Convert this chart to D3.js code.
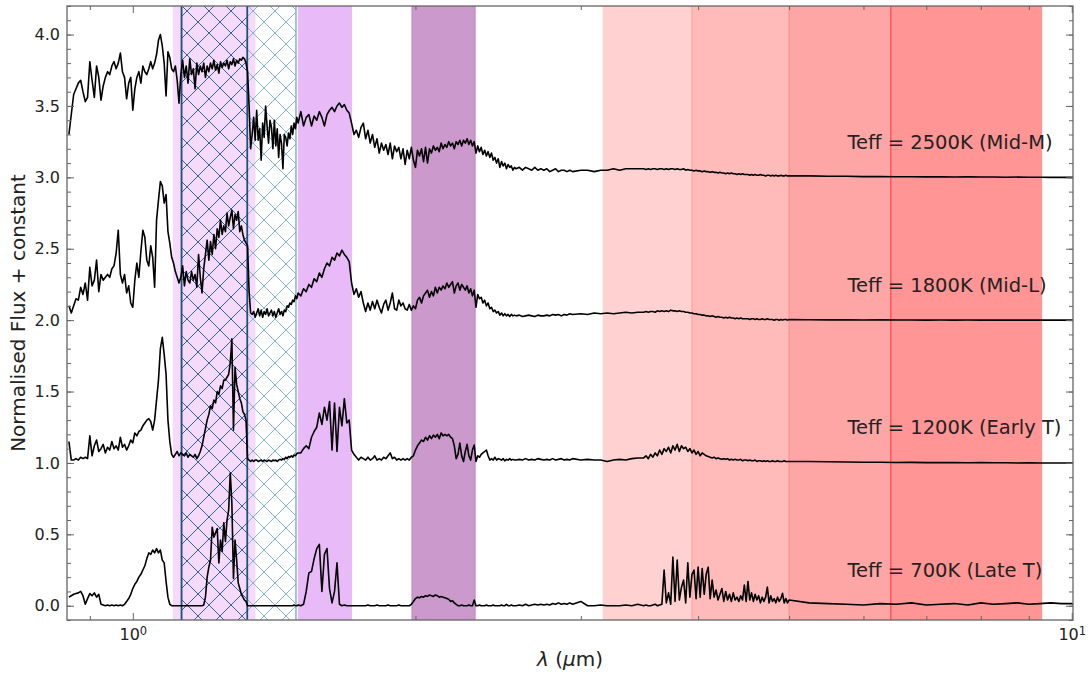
<!DOCTYPE html>
<html>
<head>
<meta charset="utf-8">
<script src="https://cdnjs.cloudflare.com/ajax/libs/d3/7.8.5/d3.min.js"></script>
<style>
  body { margin: 0; background: #fff; }
  svg { display: block; font-family: "DejaVu Sans", sans-serif; }
</style>
</head>
<body>
<div id="chart"></div>
<script>
// wavelength grid (micron) shared by the four spectra
var wavelength = [
  0.855,0.860,0.865,0.870,0.875,0.880,0.885,0.890,0.895,0.900,
  0.905,0.910,0.915,0.920,0.925,0.930,0.935,0.940,0.945,0.950,
  0.955,0.960,0.965,0.970,0.975,0.980,0.985,0.990,0.995,1.000,
  1.005,1.010,1.015,1.020,1.025,1.030,1.035,1.040,1.045,1.050,
  1.055,1.060,1.065,1.070,1.075,1.080,1.085,1.090,1.095,1.100,
  1.105,1.110,1.115,1.120,1.125,1.130,1.135,1.140,1.145,1.150,
  1.155,1.160,1.165,1.170,1.175,1.180,1.185,1.190,1.195,1.200,
  1.205,1.210,1.215,1.220,1.225,1.230,1.235,1.240,1.245,1.250,
  1.255,1.260,1.265,1.270,1.275,1.280,1.285,1.290,1.295,1.300,
  1.305,1.310,1.315,1.320,1.325,1.330,1.335,1.340,1.345,1.350,
  1.355,1.360,1.365,1.370,1.375,1.380,1.385,1.390,1.395,1.400,
  1.405,1.410,1.415,1.420,1.425,1.430,1.435,1.440,1.445,1.450,
  1.455,1.460,1.465,1.470,1.475,1.480,1.485,1.490,1.495,1.500,
  1.51,1.52,1.53,1.54,1.55,1.56,1.57,1.58,1.59,1.60,
  1.61,1.62,1.63,1.64,1.65,1.66,1.67,1.68,1.69,1.70,
  1.71,1.72,1.73,1.74,1.75,
  1.76,1.77,1.78,1.79,1.80,1.81,1.82,1.83,1.84,1.85,
  1.86,1.87,1.88,1.89,1.90,1.91,1.92,1.93,1.94,1.95,
  1.96,1.97,1.98,1.99,2.00,2.01,2.02,2.03,2.04,2.05,
  2.06,2.07,2.08,2.09,2.10,2.11,2.12,2.13,2.14,2.15,
  2.16,2.17,2.18,2.19,2.20,2.21,2.22,2.23,2.24,2.25,
  2.26,2.27,2.28,2.29,2.30,2.31,2.32,2.33,2.34,2.35,
  2.36,2.37,2.38,2.39,2.40,2.41,2.42,2.43,2.44,2.45,
  2.46,2.47,2.48,2.49,2.50,2.51,2.52,2.53,2.54,2.55,
  2.56,2.58,2.60,2.62,2.64,2.66,2.68,2.70,2.72,2.74,
  2.76,2.78,2.80,2.82,2.84,2.86,2.88,2.90,2.92,2.94,
  3.00,3.05,3.10,3.15,3.20,3.25,3.30,3.35,3.40,3.45,
  3.50,3.52,3.54,3.56,3.58,3.60,3.62,3.64,3.66,3.68,
  3.70,3.72,3.74,3.76,3.78,3.80,3.82,3.84,3.86,3.88,
  3.90,3.92,3.94,3.96,3.98,4.00,4.02,4.04,4.06,4.08,
  4.10,4.12,4.14,4.16,4.18,4.20,4.22,4.24,4.26,4.28,
  4.30,4.32,4.34,4.36,4.38,4.40,4.42,4.44,4.46,4.48,
  4.50,4.52,4.54,4.56,4.58,4.60,4.62,4.64,4.66,4.68,
  4.70,4.72,4.74,4.76,4.78,4.80,4.82,4.84,4.86,4.88,
  4.90,4.92,4.94,4.96,4.98,
  5.00,5.25,5.50,5.75,6.00,6.25,6.50,6.75,7.00,7.25,
  7.50,7.75,8.00,8.25,8.50,8.75,9.00,9.25,9.50,9.75,
  10.00,10.03
];

// normalised flux (before the constant is added)
var fluxMidM = [
  0.30,0.44,0.58,0.62,0.66,0.68,0.60,0.53,0.56,0.81,
  0.68,0.56,0.78,0.70,0.54,0.64,0.70,0.74,0.72,0.78,
  0.81,0.76,0.80,0.87,0.74,0.70,0.55,0.66,0.70,0.47,
  0.62,0.70,0.74,0.66,0.78,0.74,0.72,0.76,0.81,0.76,
  0.80,0.86,0.96,1.00,0.92,0.80,0.57,0.88,0.84,0.76,
  0.74,0.78,0.68,0.52,0.72,0.82,0.70,0.78,0.66,0.83,
  0.72,0.76,0.62,0.80,0.72,0.78,0.74,0.80,0.70,0.78,
  0.74,0.80,0.76,0.82,0.75,0.79,0.73,0.81,0.77,0.80,
  0.78,0.82,0.76,0.81,0.79,0.83,0.78,0.82,0.80,0.83,
  0.82,0.84,0.83,0.80,0.74,0.50,0.20,0.30,0.42,0.26,
  0.47,0.26,0.34,0.12,0.38,0.28,0.50,0.36,0.24,0.40,
  0.35,0.20,0.40,0.22,0.34,0.14,0.30,0.24,0.06,0.30,
  0.28,0.22,0.31,0.27,0.36,0.30,0.38,0.34,0.42,0.38,
  0.46,0.36,0.42,0.44,0.36,0.43,0.40,0.46,0.42,0.36,
  0.44,0.47,0.49,0.46,0.50,0.52,0.49,0.51,0.47,0.45,
  0.38,0.30,0.33,0.28,0.35,
  0.38,0.27,0.33,0.24,0.30,0.21,0.27,0.17,0.24,0.19,
  0.23,0.16,0.24,0.13,0.22,0.18,0.21,0.13,0.20,0.09,
  0.19,0.13,0.21,0.12,0.07,0.19,0.15,0.20,0.11,0.21,
  0.10,0.20,0.17,0.22,0.19,0.21,0.18,0.24,0.20,0.23,
  0.21,0.25,0.22,0.24,0.20,0.25,0.23,0.26,0.22,0.26,
  0.24,0.27,0.23,0.26,0.22,0.25,0.17,0.22,0.18,0.21,
  0.16,0.19,0.15,0.18,0.14,0.17,0.12,0.14,0.10,0.13,
  0.07,0.11,0.08,0.10,0.06,0.09,0.07,0.08,0.05,0.07,
  0.06,0.07,0.05,0.07,0.06,0.05,0.07,0.05,0.06,0.05,
  0.06,0.04,0.05,0.06,0.04,0.05,0.05,0.04,0.05,0.04,
  0.05,0.05,0.04,0.05,0.05,0.06,0.05,0.06,0.06,0.06,
  0.06,0.055,0.06,0.055,0.06,0.06,0.055,0.06,0.06,0.055,
  0.06,0.055,0.06,0.06,0.055,0.06,0.055,0.055,0.06,0.05,
  0.055,0.05,0.05,0.045,0.05,0.045,0.045,0.04,0.045,0.04,
  0.04,0.035,0.04,0.035,0.035,0.03,0.035,0.03,0.03,0.025,
  0.03,0.025,0.03,0.025,0.025,0.02,0.025,0.02,0.025,0.02,
  0.02,0.02,0.015,0.02,0.015,0.02,0.015,0.015,0.02,0.015,
  0.015,0.01,0.015,0.015,0.01,0.015,0.01,0.015,0.01,0.01,
  0.015,0.01,0.01,0.015,0.01,
  0.01,0.01,0.008,0.008,0.005,0.006,0.004,0.004,0.003,0.003,
  0.002,0.003,0.002,0.002,0.001,0.002,0.001,0.001,0.0,0.001,
  0.0,0.0
];

var fluxMidL = [
  0.10,0.05,0.10,0.15,0.14,0.23,0.18,0.26,0.14,0.37,
  0.24,0.28,0.42,0.20,0.32,0.28,0.30,0.32,0.30,0.36,
  0.38,0.47,0.63,0.32,0.26,0.32,0.19,0.24,0.12,0.09,
  0.28,0.40,0.30,0.48,0.63,0.58,0.42,0.38,0.52,0.44,
  0.23,0.70,0.84,0.97,0.94,0.82,0.88,0.62,0.54,0.44,
  0.40,0.34,0.30,0.26,0.30,0.38,0.24,0.34,0.28,0.26,
  0.34,0.28,0.32,0.23,0.46,0.30,0.19,0.36,0.46,0.56,
  0.42,0.55,0.46,0.60,0.50,0.64,0.58,0.70,0.60,0.66,
  0.62,0.75,0.66,0.72,0.77,0.64,0.74,0.70,0.76,0.62,
  0.66,0.60,0.56,0.54,0.52,0.20,0.05,0.04,0.06,0.02,
  0.05,0.08,0.03,0.07,0.02,0.06,0.04,0.08,0.03,0.05,
  0.07,0.03,0.06,0.02,0.05,0.08,0.04,0.06,0.03,0.07,
  0.06,0.10,0.09,0.12,0.11,0.14,0.13,0.17,0.15,0.19,
  0.17,0.22,0.20,0.25,0.23,0.29,0.27,0.33,0.30,0.36,
  0.40,0.38,0.44,0.42,0.47,0.45,0.49,0.46,0.44,0.41,
  0.26,0.18,0.22,0.16,0.20,
  0.12,0.06,0.12,0.07,0.13,0.08,0.14,0.09,0.05,0.11,
  0.14,0.07,0.12,0.19,0.08,0.07,0.14,0.10,0.12,0.08,
  0.07,0.11,0.07,0.10,0.08,0.14,0.16,0.12,0.17,0.19,
  0.21,0.16,0.20,0.17,0.23,0.19,0.23,0.21,0.24,0.22,
  0.26,0.23,0.25,0.27,0.19,0.24,0.26,0.21,0.25,0.23,
  0.21,0.24,0.19,0.22,0.17,0.21,0.09,0.18,0.15,0.16,
  0.12,0.14,0.10,0.12,0.08,0.09,0.06,0.07,0.05,0.06,
  0.035,0.05,0.03,0.045,0.03,0.04,0.025,0.04,0.03,0.035,
  0.03,0.035,0.025,0.03,0.035,0.03,0.025,0.035,0.03,0.03,
  0.035,0.03,0.04,0.035,0.04,0.03,0.04,0.035,0.045,0.04,
  0.045,0.04,0.05,0.045,0.05,0.045,0.05,0.055,0.05,0.055,
  0.055,0.06,0.055,0.06,0.06,0.055,0.065,0.06,0.065,0.06,
  0.065,0.06,0.07,0.065,0.065,0.06,0.065,0.06,0.06,0.055,
  0.055,0.05,0.05,0.045,0.045,0.04,0.04,0.035,0.035,0.03,
  0.03,0.025,0.03,0.025,0.02,0.025,0.02,0.02,0.015,0.02,
  0.015,0.02,0.015,0.015,0.01,0.015,0.01,0.015,0.01,0.01,
  0.01,0.01,0.005,0.01,0.01,0.005,0.01,0.005,0.005,0.01,
  0.005,0.005,0.01,0.005,0.005,0.005,0.0,0.005,0.005,0.0,
  0.005,0.0,0.005,0.005,0.0,
  0.005,0.003,0.002,0.003,0.001,0.002,0.001,0.001,0.0,0.001,
  0.0,0.001,0.0,0.0,0.001,0.0,0.0,0.001,0.0,0.0,
  0.0,0.0
];

var fluxEarlyT = [
  0.15,0.02,0.02,0.03,0.02,0.04,0.03,0.04,0.03,0.19,
  0.05,0.12,0.16,0.08,0.10,0.13,0.07,0.11,0.09,0.15,
  0.10,0.12,0.09,0.18,0.11,0.13,0.09,0.12,0.16,0.14,
  0.21,0.19,0.22,0.23,0.26,0.28,0.30,0.31,0.29,0.23,
  0.30,0.44,0.58,0.80,0.88,0.76,0.62,0.30,0.15,0.06,
  0.04,0.06,0.08,0.05,0.07,0.06,0.05,0.07,0.04,0.06,
  0.05,0.04,0.06,0.03,0.05,0.08,0.12,0.18,0.24,0.30,
  0.34,0.40,0.38,0.44,0.42,0.50,0.48,0.54,0.52,0.58,
  0.58,0.60,0.62,0.70,0.87,0.23,0.67,0.55,0.50,0.45,
  0.42,0.36,0.34,0.30,0.03,0.02,0.01,0.02,0.01,0.02,
  0.02,0.01,0.015,0.02,0.01,0.02,0.015,0.01,0.02,0.015,
  0.01,0.02,0.015,0.02,0.01,0.02,0.025,0.02,0.03,0.025,
  0.04,0.03,0.045,0.04,0.05,0.04,0.055,0.05,0.065,0.07,
  0.07,0.10,0.12,0.10,0.18,0.22,0.25,0.35,0.27,0.39,
  0.30,0.43,0.09,0.42,0.08,0.39,0.26,0.45,0.28,0.30,
  0.09,0.06,0.04,0.02,0.04,
  0.03,0.02,0.04,0.02,0.03,0.05,0.02,0.03,0.02,0.04,
  0.03,0.05,0.07,0.03,0.04,0.02,0.03,0.02,0.03,0.02,
  0.03,0.02,0.04,0.05,0.09,0.12,0.14,0.16,0.15,0.18,
  0.16,0.19,0.17,0.195,0.18,0.20,0.17,0.21,0.19,0.20,
  0.19,0.20,0.18,0.17,0.12,0.03,0.06,0.14,0.05,0.01,
  0.08,0.13,0.05,0.02,0.09,0.125,0.01,0.05,0.04,0.06,
  0.07,0.08,0.09,0.05,0.02,0.03,0.02,0.04,0.02,0.03,
  0.025,0.02,0.03,0.015,0.025,0.02,0.03,0.02,0.025,0.02,
  0.02,0.025,0.02,0.03,0.02,0.025,0.02,0.03,0.025,0.02,
  0.025,0.02,0.03,0.02,0.025,0.03,0.02,0.025,0.02,0.03,
  0.02,0.025,0.02,0.02,0.01,0.02,0.025,0.02,0.03,0.035,
  0.035,0.05,0.03,0.06,0.04,0.07,0.05,0.09,0.06,0.10,
  0.08,0.11,0.07,0.12,0.09,0.13,0.08,0.12,0.10,0.11,
  0.08,0.10,0.07,0.09,0.06,0.08,0.05,0.07,0.06,0.05,
  0.045,0.04,0.035,0.04,0.03,0.035,0.03,0.025,0.03,0.025,
  0.03,0.02,0.025,0.02,0.025,0.02,0.02,0.025,0.015,0.02,
  0.02,0.015,0.02,0.015,0.015,0.02,0.01,0.015,0.015,0.01,
  0.015,0.01,0.015,0.01,0.01,0.015,0.01,0.01,0.015,0.01,
  0.01,0.01,0.015,0.01,0.01,
  0.01,0.01,0.008,0.006,0.005,0.005,0.003,0.004,0.002,0.002,
  0.002,0.001,0.002,0.001,0.001,0.0,0.001,0.0,0.0,0.0,
  0.0,0.0
];

var fluxLateT = [
  0.06,0.07,0.08,0.085,0.09,0.10,0.07,0.01,0.05,0.085,
  0.07,0.09,0.06,0.08,0.01,0.005,0.0,0.005,0.0,0.005,
  0.0,0.005,0.0,0.005,0.0,0.01,0.03,0.05,0.08,0.12,
  0.15,0.17,0.20,0.22,0.25,0.28,0.33,0.37,0.36,0.39,
  0.37,0.40,0.37,0.39,0.32,0.30,0.17,0.06,0.01,0.0,
  0.0,0.0,0.0,0.0,0.0,0.0,0.0,0.0,0.0,0.0,
  0.0,0.0,0.0,0.0,0.0,0.0,0.0,0.005,0.06,0.20,
  0.27,0.32,0.55,0.48,0.51,0.54,0.30,0.46,0.38,0.58,
  0.45,0.60,0.67,0.93,0.72,0.19,0.46,0.32,0.16,0.12,
  0.08,0.06,0.04,0.03,0.0,0.0,0.0,0.0,0.0,0.0,
  0.0,0.0,0.0,0.0,0.0,0.0,0.0,0.0,0.0,0.0,
  0.0,0.0,0.0,0.0,0.0,0.0,0.0,0.0,0.0,0.0,
  0.0,0.0,0.0,0.0,0.0,0.0,0.005,0.0,0.0,0.005,
  0.0,0.01,0.10,0.23,0.24,0.33,0.40,0.43,0.10,0.36,
  0.40,0.12,0.02,0.10,0.30,0.01,0.0,0.005,0.0,0.0,
  0.0,0.0,0.0,0.0,0.0,
  0.0,0.0,0.005,0.0,0.0,0.0,0.005,0.0,0.0,0.0,
  0.0,0.005,0.0,0.0,0.0,0.0,0.005,0.0,0.0,0.0,
  0.0,0.0,0.01,0.03,0.05,0.06,0.055,0.065,0.06,0.07,
  0.065,0.075,0.07,0.065,0.075,0.07,0.06,0.065,0.06,0.055,
  0.05,0.045,0.03,0.035,0.02,0.01,0.0,0.0,0.005,0.0,
  0.0,0.0,0.005,0.0,0.0,0.04,0.0,0.0,0.005,0.0,
  0.0,0.0,0.005,0.0,0.0,0.0,0.005,0.0,0.0,0.0,
  0.0,0.005,0.0,0.0,0.01,0.0,0.0,0.005,0.0,0.0,
  0.0,0.005,0.0,0.01,0.0,0.005,0.01,0.005,0.01,0.005,
  0.01,0.005,0.015,0.01,0.02,0.01,0.015,0.01,0.02,0.01,
  0.03,0.0,0.0,0.005,0.0,0.0,0.0,0.005,0.0,0.01,
  0.0,0.005,0.0,0.0,0.005,0.01,0.0,0.005,0.01,0.25,
  0.02,0.09,0.01,0.34,0.03,0.32,0.04,0.13,0.18,0.02,
  0.30,0.06,0.22,0.25,0.05,0.27,0.06,0.26,0.08,0.22,
  0.27,0.05,0.18,0.06,0.11,0.04,0.08,0.12,0.03,0.10,
  0.04,0.08,0.03,0.09,0.04,0.06,0.03,0.07,0.04,0.145,
  0.03,0.17,0.04,0.09,0.03,0.08,0.04,0.07,0.02,0.06,
  0.03,0.06,0.13,0.02,0.07,0.03,0.05,0.02,0.06,0.03,
  0.05,0.087,0.02,0.05,0.02,
  0.04,0.02,0.015,0.01,0.005,0.015,0.01,0.02,0.005,0.01,
  0.015,0.005,0.02,0.01,0.015,0.02,0.01,0.015,0.02,0.015,
  0.015,0.01
];

var spectra = [fluxMidM, fluxMidL, fluxEarlyT, fluxLateT];
var offsets = [3, 2, 1, 0];
var specLabels = ["Teff = 2500K (Mid-M)", "Teff = 1800K (Mid-L)", "Teff = 1200K (Early T)", "Teff = 700K (Late T)"];

// shaded wavelength ranges (micron)
var violetBands = [[1.103, 1.351], [1.499, 1.712]];
var purpleBand = [1.983, 2.315];
var hatchBands = [[1.127, 1.324], [1.324, 1.492]];
var redBands = [[3.165, 3.94], [3.94, 5.0], [5.0, 6.416], [6.416, 9.30]];

// axes
var xLimits = [0.851, 10.03],
    yLimits = [-0.1, 4.2],
    xMajorTicks = [1, 10],
    xMinorTicks = [0.9, 2, 3, 4, 5, 6, 7, 8, 9],
    yMajorTicks = [0, 0.5, 1.0, 1.5, 2.0, 2.5, 3.0, 3.5, 4.0];

var width = 1091,
    height = 675,
    plot = {left: 67, right: 1073, top: 6, bottom: 620};

var svg = d3.select('#chart')
        .append('svg')
        .attr('width', width)
        .attr('height', height)
        .style('background', '#fff');

var x = d3.scaleLog().domain(xLimits).range([plot.left, plot.right]),
    y = d3.scaleLinear().domain(yLimits).range([plot.bottom, plot.top]);

var defs = svg.append('defs');
defs.append('clipPath').attr('id', 'plot-clip')
    .append('rect')
    .attr('x', plot.left).attr('y', plot.top)
    .attr('width', plot.right - plot.left)
    .attr('height', plot.bottom - plot.top);

var hatchSize = 22;
function addHatch(id, color){
    var s = hatchSize;
    var p = defs.append('pattern')
        .attr('id', id)
        .attr('patternUnits', 'userSpaceOnUse')
        .attr('width', s).attr('height', s);
    p.append('path')
        .attr('d', 'M-4,-4L' + (s + 4) + ',' + (s + 4) + 'M' + (s + 4) + ',-4L-4,' + (s + 4) +
                   'M-4,' + (s - 4) + 'L4,' + (s + 4) + 'M' + (s - 4) + ',-4L' + (s + 4) + ',4' +
                   'M-4,4L4,-4M' + (s - 4) + ',' + (s + 4) + 'L' + (s + 4) + ',' + (s - 4))
        .attr('stroke', color)
        .attr('stroke-width', 1)
        .attr('fill', 'none');
}
addHatch('hatch-dark', '#33659a');
addHatch('hatch-light', '#88b4ca');

var bg = svg.append('g').attr('clip-path', 'url(#plot-clip)');

function band(g, r, fill){
    return g.append('rect')
        .attr('x', x(r[0]))
        .attr('y', plot.top)
        .attr('width', x(r[1]) - x(r[0]))
        .attr('height', plot.bottom - plot.top)
        .attr('fill', fill);
}
function vline(g, w, color, sw){
    g.append('line')
        .attr('x1', x(w)).attr('x2', x(w))
        .attr('y1', plot.top).attr('y2', plot.bottom)
        .attr('stroke', color).attr('stroke-width', sw);
}

band(bg, violetBands[0], '#f5dafc');
band(bg, violetBands[1], '#e8baf8');
band(bg, purpleBand, '#cc99cc');
vline(bg, purpleBand[0], '#bf82c2', 1);
vline(bg, purpleBand[1], '#bf82c2', 1);

var redFills = ['#ffd1d1', '#ffbaba', '#fea6a6', '#ff9595'];
redBands.forEach(function(r, i){ band(bg, r, redFills[i]); });
vline(bg, redBands[1][0], '#fb9f9f', 1);
vline(bg, redBands[2][0], '#f88a8a', 1);
vline(bg, redBands[3][0], '#ff3535', 1);

band(bg, hatchBands[1], 'url(#hatch-light)');
vline(bg, hatchBands[1][1], '#86b2c9', 1.5);
band(bg, hatchBands[0], 'url(#hatch-dark)');
vline(bg, hatchBands[0][0], '#1f4f7d', 1.8);
vline(bg, hatchBands[0][1], '#1f4f7d', 1.8);

// spectra
var line = d3.line()
    .x(function(d){ return x(d[0]); })
    .y(function(d){ return y(d[1]); });

var specG = svg.append('g').attr('clip-path', 'url(#plot-clip)');
spectra.forEach(function(flux, k){
    var n = Math.min(flux.length, wavelength.length);
    var pts = [];
    for (var i = 0; i < n; i++) pts.push([wavelength[i], flux[i] + offsets[k]]);
    specG.append('path')
        .datum(pts)
        .attr('d', line)
        .attr('fill', 'none')
        .attr('stroke', '#000')
        .attr('stroke-width', 1.6)
        .attr('stroke-linejoin', 'round');
});

// labels for each spectrum
svg.append('g').selectAll('text')
    .data(specLabels).enter()
    .append('text')
    .attr('x', x(5.77))
    .attr('y', function(d, i){ return y(offsets[i] + 0.2); })
    .attr('font-size', '19.5px')
    .attr('fill', '#222')
    .text(function(d){ return d; });

// axes, ticks pointing in on all four sides
var axisColor = '#666';
function styleAxis(g){
    g.select('.domain').remove();
    g.selectAll('.tick line').attr('stroke', axisColor).attr('stroke-width', 1);
    g.selectAll('.tick text').attr('fill', '#222').attr('font-size', '16px')
        .attr('font-family', '"DejaVu Sans", sans-serif');
}

var gxb = svg.append('g').attr('transform', 'translate(0,' + plot.bottom + ')')
    .call(d3.axisBottom(x).tickValues(xMajorTicks).tickSize(-7).tickPadding(9).tickFormat(function(){ return ''; }))
    .call(styleAxis);
gxb.selectAll('.tick text').each(function(d){
    var t = d3.select(this).attr('dy', '0.71em');
    t.append('tspan').text('10');
    t.append('tspan').attr('dy', '-0.45em').attr('font-size', '11.5px').text(Math.round(Math.log10(d)));
});
svg.append('g').attr('transform', 'translate(0,' + plot.bottom + ')')
    .call(d3.axisBottom(x).tickValues(xMinorTicks).tickSize(-4).tickFormat(''))
    .call(styleAxis);
svg.append('g').attr('transform', 'translate(0,' + plot.top + ')')
    .call(d3.axisTop(x).tickValues(xMajorTicks).tickSize(-7).tickFormat(''))
    .call(styleAxis);
svg.append('g').attr('transform', 'translate(0,' + plot.top + ')')
    .call(d3.axisTop(x).tickValues(xMinorTicks).tickSize(-4).tickFormat(''))
    .call(styleAxis);

var yMinorTicks = d3.range(-1, 43).map(function(i){ return i / 10; });
svg.append('g').attr('transform', 'translate(' + plot.left + ',0)')
    .call(d3.axisLeft(y).tickValues(yMajorTicks).tickSize(-7).tickPadding(7).tickFormat(d3.format('.1f')))
    .call(styleAxis);
svg.append('g').attr('transform', 'translate(' + plot.left + ',0)')
    .call(d3.axisLeft(y).tickValues(yMinorTicks).tickSize(-4).tickFormat(''))
    .call(styleAxis);
svg.append('g').attr('transform', 'translate(' + plot.right + ',0)')
    .call(d3.axisRight(y).tickValues(yMajorTicks).tickSize(-7).tickFormat(''))
    .call(styleAxis);
svg.append('g').attr('transform', 'translate(' + plot.right + ',0)')
    .call(d3.axisRight(y).tickValues(yMinorTicks).tickSize(-4).tickFormat(''))
    .call(styleAxis);

// frame
svg.append('rect')
    .attr('x', plot.left).attr('y', plot.top)
    .attr('width', plot.right - plot.left)
    .attr('height', plot.bottom - plot.top)
    .attr('fill', 'none')
    .attr('stroke', axisColor)
    .attr('stroke-width', 1.3);

// axis titles
var xl = svg.append('text')
    .attr('x', (plot.left + plot.right) / 2)
    .attr('y', 666)
    .attr('text-anchor', 'middle')
    .attr('font-size', '20px')
    .attr('fill', '#222');
xl.append('tspan').attr('font-style', 'italic').text('λ');
xl.append('tspan').text(' (');
xl.append('tspan').attr('font-style', 'italic').text('μ');
xl.append('tspan').text('m)');

svg.append('text')
    .attr('transform', 'translate(25,' + ((plot.top + plot.bottom) / 2) + ') rotate(-90)')
    .attr('text-anchor', 'middle')
    .attr('font-size', '20px')
    .attr('fill', '#222')
    .text('Normalised Flux + constant');
</script>
</body>
</html>
